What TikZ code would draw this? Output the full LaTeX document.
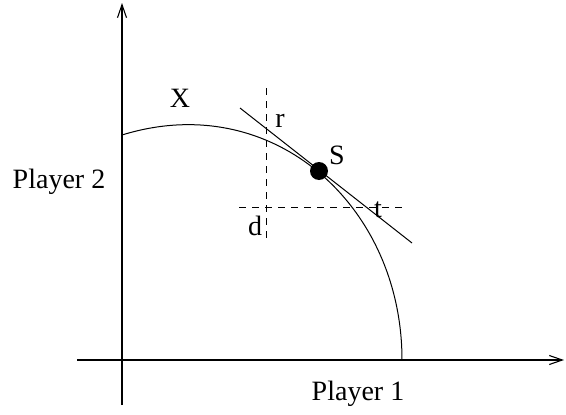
\documentclass[tikz,border=0pt]{standalone}
\usepackage{fontspec}
\setmainfont{Liberation Serif}[Ligatures=TeX]
\usetikzlibrary{arrows.meta}
\tikzset{axis/.style={-{Straight Barb[length=13pt,width=9pt]},line width=1.1pt}, guide/.style={dash pattern=on 7pt off 6pt,line width=0.9pt}, lbl/.style={font=\rmfamily\fontsize{28}{32}\selectfont,inner sep=0pt}, dot/.style={circle,fill=black,minimum size=18pt,inner sep=0pt}}
\begin{document}
\begin{tikzpicture}[x=1pt,y=-1pt]
\useasboundingbox (0,0) rectangle (566,415);
\coordinate (ybot) at (122,405);
\coordinate (ytop) at (122,3);
\coordinate (xl) at (77,360);
\coordinate (xr) at (564,360);
\draw[axis] (ybot)--(ytop);
\draw[axis] (xl)--(xr);
% frontier
\coordinate (f0) at (122,135);
\coordinate (f1) at (402,360);
\draw[line width=1pt] (f0) .. controls (272,88.5) and (402,205) .. (f1);
% tangent and guides
\coordinate (t0) at (240,108);
\coordinate (t1) at (412,243);
\draw[line width=1pt] (t0)--(t1);
\coordinate (v0) at (266,88);
\coordinate (v1) at (266,243);
\coordinate (h0) at (239,207);
\coordinate (h1) at (405,207);
\draw[guide] (v0)--(v1);
\draw[guide] (h0)--(h1);
\node[dot] (S) at (319,171) {};
\node[lbl] (lS) at (337,155) {S};
\node[lbl] (lr) at (280,121) {r};
\node[lbl] (lt) at (378,210) {t};
\node[lbl] (ld) at (255,226) {d};
\node[lbl] (lX) at (180,98) {X};
\node[lbl] (p2) at (59,182) {Player 2};
\node[lbl] (p1) at (358,394) {Player 1};
\end{tikzpicture}
\end{document}
